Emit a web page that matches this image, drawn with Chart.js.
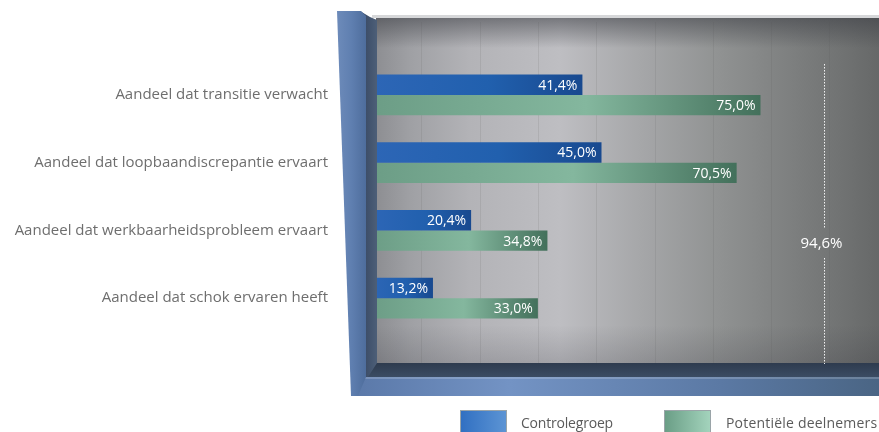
<!DOCTYPE html>
<html>
<head>
<meta charset="utf-8">
<script src="https://cdn.jsdelivr.net/npm/chart.js@4.4.1/dist/chart.umd.min.js"></script>
<style>
  html,body{margin:0;padding:0;background:#fff;overflow:hidden;width:879px;height:432px;}
  #wrap{position:absolute;left:0;top:0;width:893px;height:432px;}
  .box{position:absolute;top:410px;width:45px;height:30px;border:1px solid #9aa4a8;}
  .lt{position:absolute;top:413px;font-family:"Open Sans",sans-serif;font-size:14px;color:#5a5a5a;white-space:nowrap;}
</style>
</head>
<body>
<div id="wrap"><canvas id="c" width="893" height="432"></canvas></div>
<div class="box" style="left:460px;background:linear-gradient(90deg,#3170c2,#5c94d4);"></div>
<div class="lt" style="left:521px;letter-spacing:-0.2px;">Controlegroep</div>
<div class="box" style="left:664px;background:linear-gradient(90deg,#6a9e86,#a3d3bc);"></div>
<div class="lt" style="left:726px;letter-spacing:0.2px;">Potentiële deelnemers</div>
<script>
const categories = [
  'Aandeel dat transitie verwacht',
  'Aandeel dat loopbaandiscrepantie ervaart',
  'Aandeel dat werkbaarheidsprobleem ervaart',
  'Aandeel dat schok ervaren heeft'
];
const controlegroep = [41.4, 45.0, 20.4, 13.2];
const potentieleDeelnemers = [75.0, 70.5, 34.8, 33.0];
const seriesNames = ['Controlegroep', 'Potentiële deelnemers'];
const markerValue = [87];
const markerLabel = ['94,6%'];

function fmt(v){ return v.toFixed(1).replace('.', ',') + '%'; }

function barGradient(stops){
  return function(ctx){
    const chart = ctx.chart;
    const area = chart.chartArea;
    if (!area) return stops[1];
    const xs = chart.scales.x;
    const v = ctx.dataset.data[ctx.dataIndex];
    const x0 = xs.getPixelForValue(0) + 10;
    const x1 = xs.getPixelForValue(v);
    const g = chart.ctx.createLinearGradient(x0, 0, x1, 0);
    g.addColorStop(0, stops[0]);
    g.addColorStop(0.55, stops[1]);
    g.addColorStop(1, stops[2]);
    return g;
  };
}

const decor = {
  id: 'decor',
  beforeDraw(chart){
    const ctx = chart.ctx;
    const W = chart.width;
    const xs = chart.scales.x;
    const px = 376, top = 18, bot = 364;
    ctx.save();
    ctx.fillStyle = '#d6d7d9';
    ctx.fillRect(px - 4, top - 3, W, 3);
    const g = ctx.createLinearGradient(px, 0, 879, 0);
    const st = [[372,'#8d8e92'],[410,'#9fa0a4'],[470,'#b3b3b7'],[560,'#bebec2'],[640,'#a6a7a9'],[720,'#909292'],[800,'#7b7d7d'],[840,'#717373'],[879,'#666868']];
    st.forEach(s => g.addColorStop(Math.min(1, Math.max(0, (s[0]-px)/(879-px))), s[1]));
    ctx.fillStyle = g;
    ctx.fillRect(px, top, W - px, bot - top);
    const gt = ctx.createLinearGradient(0, top, 0, top + 30);
    gt.addColorStop(0, 'rgba(60,62,68,0.55)');
    gt.addColorStop(1, 'rgba(60,62,68,0)');
    ctx.fillStyle = gt;
    ctx.fillRect(px, top, W - px, 30);
    const gb = ctx.createLinearGradient(0, 325, 0, bot);
    gb.addColorStop(0, 'rgba(40,40,50,0)');
    gb.addColorStop(1, 'rgba(40,40,50,0.18)');
    ctx.fillStyle = gb;
    ctx.fillRect(px, 325, W - px, bot - 325);
    ctx.strokeStyle = 'rgba(80,80,85,0.12)';
    ctx.lineWidth = 1;
    xs.ticks.forEach(t => {
      const x = Math.round(xs.getPixelForValue(t.value)) + 0.5;
      if (x <= px + 2) return;
      ctx.beginPath(); ctx.moveTo(x, top + 4); ctx.lineTo(x, bot); ctx.stroke();
    });
    ctx.restore();
  },
  afterDatasetsDraw(chart){
    const ctx = chart.ctx;
    const W = chart.width;
    const xs = chart.scales.x;
    ctx.save();
    const gf = ctx.createLinearGradient(0, 363, 0, 377);
    gf.addColorStop(0, '#2e3b4e');
    gf.addColorStop(1, '#3b4c63');
    ctx.fillStyle = gf;
    ctx.fillRect(368, 363, W, 14);
    const gfr = ctx.createLinearGradient(351, 0, 879, 0);
    gfr.addColorStop(0, '#5a78a8');
    gfr.addColorStop(0.3, '#7393c4');
    gfr.addColorStop(0.7, '#5b79a4');
    gfr.addColorStop(1, '#4a6584');
    ctx.fillStyle = gfr;
    ctx.fillRect(351, 377, W, 19);
    ctx.fillStyle = 'rgba(255,255,255,0.18)';
    ctx.fillRect(351, 377, W, 2);
    const gi = ctx.createLinearGradient(364, 0, 377, 0);
    gi.addColorStop(0, '#3a4b66');
    gi.addColorStop(1, '#4d5f78');
    ctx.fillStyle = gi;
    ctx.beginPath();
    ctx.moveTo(360, 11); ctx.lineTo(370, 17); ctx.lineTo(377, 20); ctx.lineTo(377, 363);
    ctx.lineTo(368, 377); ctx.lineTo(364, 377); ctx.closePath();
    ctx.fill();
    const gw = ctx.createLinearGradient(337, 0, 366, 0);
    gw.addColorStop(0, '#6d8bba');
    gw.addColorStop(0.5, '#5f7fb0');
    gw.addColorStop(1, '#4e6d9c');
    ctx.fillStyle = gw;
    ctx.beginPath();
    ctx.moveTo(337, 11); ctx.lineTo(361, 11); ctx.lineTo(366, 16);
    ctx.lineTo(366, 377); ctx.lineTo(358, 396); ctx.lineTo(351, 396); ctx.closePath();
    ctx.fill();

    ctx.fillStyle = '#ffffff';
    ctx.font = '14px "Open Sans", sans-serif';
    ctx.textAlign = 'right';
    ctx.textBaseline = 'middle';
    chart.data.datasets.forEach((ds, di) => {
      chart.getDatasetMeta(di).data.forEach((el, i) => {
        ctx.fillText(fmt(ds.data[i]), el.x - 5, el.y + 1);
      });
    });

    markerValue.forEach((mv, k) => {
      const x = Math.round(xs.getPixelForValue(mv)) + 0.5;
      ctx.strokeStyle = 'rgba(255,255,255,0.9)';
      ctx.lineWidth = 1;
      ctx.setLineDash([1.5, 1.5]);
      ctx.beginPath();
      ctx.moveTo(x, 64); ctx.lineTo(x, 229);
      ctx.moveTo(x, 258); ctx.lineTo(x, 364);
      ctx.stroke();
      ctx.setLineDash([]);
      ctx.textAlign = 'center';
      ctx.font = '15px "Open Sans", sans-serif';
      ctx.fillText(markerLabel[k], x - 3, 244);
    });
    ctx.restore();
  }
};

new Chart(document.getElementById('c'), {
  type: 'bar',
  data: {
    labels: categories,
    datasets: [
      { label: seriesNames[0], data: controlegroep,
        backgroundColor: barGradient(['#2d66b6', '#2160ae', '#18498f']) },
      { label: seriesNames[1], data: potentieleDeelnemers,
        backgroundColor: barGradient(['#6c9d86', '#84b79e', '#43705b']) }
    ]
  },
  options: {
    indexAxis: 'y',
    responsive: false,
    animation: false,
    events: [],
    layout: { padding: { left: 0, right: 0, top: 61, bottom: 100 } },
    datasets: { bar: { categoryPercentage: 0.6, barPercentage: 1.0 } },
    plugins: { legend: { display: false }, tooltip: { enabled: false } },
    scales: {
      x: {
        min: 0, max: 100,
        ticks: { display: false, stepSize: 11 },
        grid: { display: false },
        border: { display: false },
        afterFit(s){ s.height = 0; }
      },
      y: {
        ticks: { padding: 27, color: '#6e6e6e', font: { family: 'Open Sans', size: 15 } },
        grid: { display: false },
        border: { display: false },
        afterFit(s){ s.width = 363; }
      }
    }
  },
  plugins: [decor]
});
</script>
</body>
</html>
